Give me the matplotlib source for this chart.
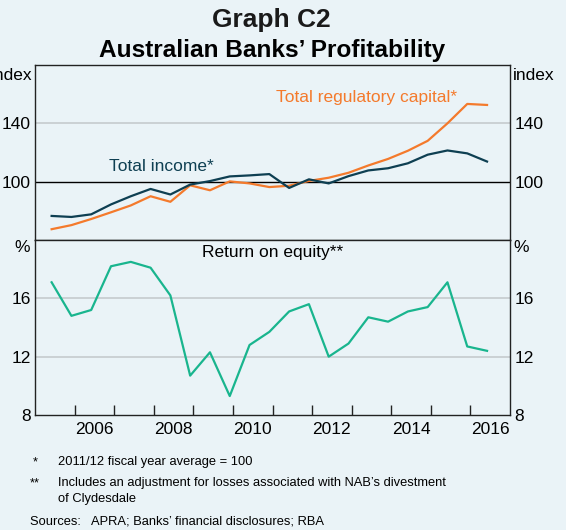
import matplotlib
matplotlib.use("Agg")
import matplotlib.pyplot as plt
import numpy as np

plt.rcParams['font.family'] = ['Liberation Sans', 'DejaVu Sans']

# ---- data (half-yearly observations) ----
periods = [2005.42 + 0.5 * i for i in range(23)]
total_income = [76.5, 75.8, 77.6, 84.4, 90.0, 95.0, 91.2, 98.0, 100.4, 103.6, 104.3, 105.2,
                95.7, 101.6, 98.8, 103.8, 107.7, 109.2, 112.6, 118.5, 121.4, 119.4, 113.8]
total_reg_capital = [67.4, 70.2, 74.4, 79.0, 83.7, 90.0, 86.2, 97.5, 94.1, 100.2, 98.8, 96.3,
                     97.2, 100.5, 102.7, 106.1, 111.1, 115.6, 121.2, 128.0, 140.0, 153.3, 152.6]
return_on_equity = [17.1, 14.8, 15.2, 18.2, 18.5, 18.1, 16.2, 10.7, 12.3, 9.3, 12.8, 13.7,
                    15.1, 15.6, 12.0, 12.9, 14.7, 14.4, 15.1, 15.4, 17.1, 12.7, 12.4]
year_labels = ['2006', '2008', '2010', '2012', '2014', '2016']
top_ticks = [100, 140]
bottom_ticks = [8, 12, 16]

W, H = 566, 530
bg = '#EAF3F7'
c_income = '#0E3F52'
c_cap = '#F47A2C'
c_roe = '#19B58E'
grid_c = '#C5CBCE'

fig = plt.figure(figsize=(W / 100, H / 100), dpi=100, facecolor=bg)

def fx(px):
    return px / W

def fy(py):
    return 1 - py / H

L, R = 35, 510
ax1 = fig.add_axes([fx(L), fy(240), fx(R - L), fy(65) - fy(240)], facecolor=bg)
ax2 = fig.add_axes([fx(L), fy(415), fx(R - L), fy(240) - fy(415)], facecolor=bg, sharex=ax1)

for ax in (ax1, ax2):
    for s in ax.spines.values():
        s.set_color('#222222')
        s.set_linewidth(1.0)

lab_fs = 12.5
tick_fs = 12.5

# top panel
ax1.set_xlim(2005, 2017)
ax1.set_ylim(60, 180)
ax1.axhline(140, color=grid_c, lw=1.2, zorder=1)
ax1.axhline(100, color='black', lw=1.0, zorder=2)
ax1.plot(periods, total_reg_capital, color=c_cap, lw=1.6, zorder=3)
ax1.plot(periods, total_income, color=c_income, lw=1.6, zorder=4)
ax1.set_yticks(top_ticks)
ax1.tick_params(axis='y', which='both', length=0, labelsize=tick_fs, left=True, right=True,
                labelleft=True, labelright=True, pad=3)
ax1.tick_params(axis='x', which='both', length=0, labelbottom=False)
ax1.text(2008.2, 110.4, 'Total income*', color=c_income, fontsize=lab_fs, ha='center', va='center')
ax1.text(2013.38, 157.8, 'Total regulatory capital*', color=c_cap, fontsize=lab_fs,
         ha='center', va='center')

# bottom panel
ax2.set_ylim(8, 20)
for v in (12, 16):
    ax2.axhline(v, color=grid_c, lw=1.2, zorder=1)
ax2.plot(periods, return_on_equity, color=c_roe, lw=1.6, zorder=3)
ax2.set_yticks(bottom_ticks)
ax2.tick_params(axis='y', which='both', length=0, labelsize=tick_fs, left=True, right=True,
                labelleft=True, labelright=True, pad=3)
ax2.set_xticks(np.arange(2006, 2017), minor=False)
ax2.set_xticklabels([])
ax2.tick_params(axis='x', which='major', direction='in', length=7, width=1, color='#222222')
ax2.set_xticks([int(y) + 0.5 for y in year_labels], minor=True)
ax2.set_xticklabels(year_labels, minor=True)
ax2.tick_params(axis='x', which='minor', length=0, labelsize=tick_fs, pad=5)
ax2.text(0.5, 0.93, 'Return on equity**', transform=ax2.transAxes, fontsize=lab_fs,
         ha='center', va='center', color='black')

# unit labels
fig.text(fx(33), fy(75), 'index', fontsize=tick_fs, ha='right', va='center')
fig.text(fx(513), fy(75), 'index', fontsize=tick_fs, ha='left', va='center')
fig.text(fx(30), fy(247), '%', fontsize=tick_fs, ha='right', va='center')
fig.text(fx(513), fy(247), '%', fontsize=tick_fs, ha='left', va='center')

# titles
fig.text(fx(271), fy(19.5), 'Graph C2', fontsize=19, fontweight='bold', ha='center', va='center',
         color='#1a1a1a')
fig.text(fx(272), fy(50), 'Australian Banks\u2019 Profitability', fontsize=17.6, fontweight='bold',
         ha='center', va='center', color='black')

# footnotes
fs = 9.3
fig.text(fx(33), fy(462), '*', fontsize=fs, ha='left', va='center')
fig.text(fx(58), fy(462), '2011/12 fiscal year average = 100', fontsize=fs, ha='left', va='center')
fig.text(fx(30), fy(483), '**', fontsize=fs, ha='left', va='center')
fig.text(fx(58), fy(483), 'Includes an adjustment for losses associated with NAB\u2019s divestment',
         fontsize=fs, ha='left', va='center')
fig.text(fx(58), fy(499), 'of Clydesdale', fontsize=fs, ha='left', va='center')
fig.text(fx(30), fy(521), 'Sources:   APRA; Banks\u2019 financial disclosures; RBA', fontsize=fs,
         ha='left', va='center')

fig.savefig('out.png', dpi=100, facecolor=bg)
